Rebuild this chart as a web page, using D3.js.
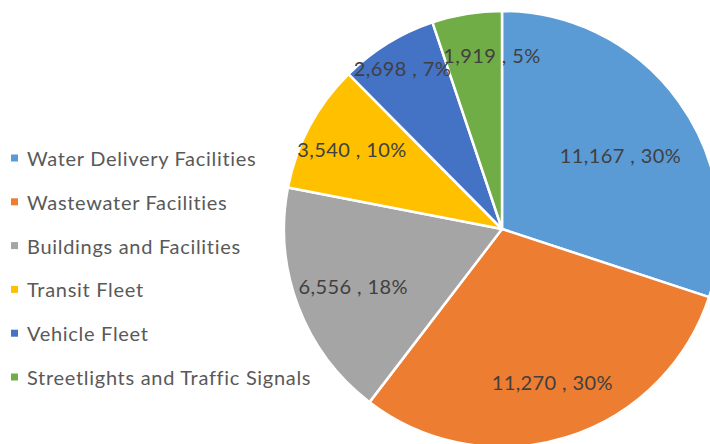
<!DOCTYPE html>
<html><head><meta charset="utf-8">
<script src="https://cdn.jsdelivr.net/npm/d3@7"></script>
<style>html,body{margin:0;padding:0;background:#fff;overflow:hidden}</style>
</head><body>
<svg id="chart" width="710" height="444"></svg>
<script>
const categories = ["Water Delivery Facilities","Wastewater Facilities","Buildings and Facilities","Transit Fleet","Vehicle Fleet","Streetlights and Traffic Signals"];
const values = [11167, 11270, 6556, 3540, 2698, 1919];
const percentLabels = ["30%","30%","18%","10%","7%","5%"];
const colors = ["#5B9BD5","#ED7D31","#A5A5A5","#FFC000","#4472C4","#70AD47"];
// label placement (layout only): radius fraction and angle shift (degrees)
const labelRadiusFrac = [0.64, 0.74, 0.73, 0.78, 0.87, 0.80];
const labelAngleShift = [4, -1, 0, 0, 0, 6];

const svg = d3.select("#chart");
const cx = 502, cy = 229, R = 218;
const font = "Lato, 'Open Sans', sans-serif";

const pie = d3.pie().sort(null).value(d => d)(values);
const arc = d3.arc().innerRadius(0).outerRadius(R);
const g = svg.append("g").attr("transform", `translate(${cx},${cy})`);
g.selectAll("path.slice").data(pie).enter().append("path")
  .attr("class","slice")
  .attr("d", arc)
  .attr("fill", (d,i) => colors[i])
  .attr("stroke", "#fff").attr("stroke-width", 2.5).attr("stroke-linejoin","round");

const fmt = d3.format(",");
g.selectAll("text.lbl").data(pie).enter().append("text")
  .attr("class","lbl")
  .attr("x", (d,i) => { const a = (d.startAngle + d.endAngle)/2 + labelAngleShift[i]*Math.PI/180; return Math.sin(a)*R*labelRadiusFrac[i]; })
  .attr("y", (d,i) => { const a = (d.startAngle + d.endAngle)/2 + labelAngleShift[i]*Math.PI/180; return -Math.cos(a)*R*labelRadiusFrac[i]; })
  .attr("text-anchor","middle").attr("dominant-baseline","central")
  .attr("font-family", font).attr("font-size", 20).attr("letter-spacing", 0.4).attr("fill", "#404040")
  .text((d,i) => `${fmt(values[i])} , ${percentLabels[i]}`);

const legendY = d3.scalePoint().domain(categories).range([158, 377]);
const lg = svg.append("g");
const items = lg.selectAll("g").data(categories).enter().append("g")
  .attr("transform", d => `translate(0,${legendY(d)})`);
items.append("rect").attr("x", 11).attr("y", -3.5).attr("width", 7).attr("height", 7)
  .attr("fill", (d,i) => colors[i]);
items.append("text").attr("x", 27).attr("y", 0).attr("dominant-baseline","central")
  .attr("font-family", font).attr("font-size", 20).attr("letter-spacing", 0.7).attr("fill", "#595959")
  .text(d => d);
</script>
</body></html>
